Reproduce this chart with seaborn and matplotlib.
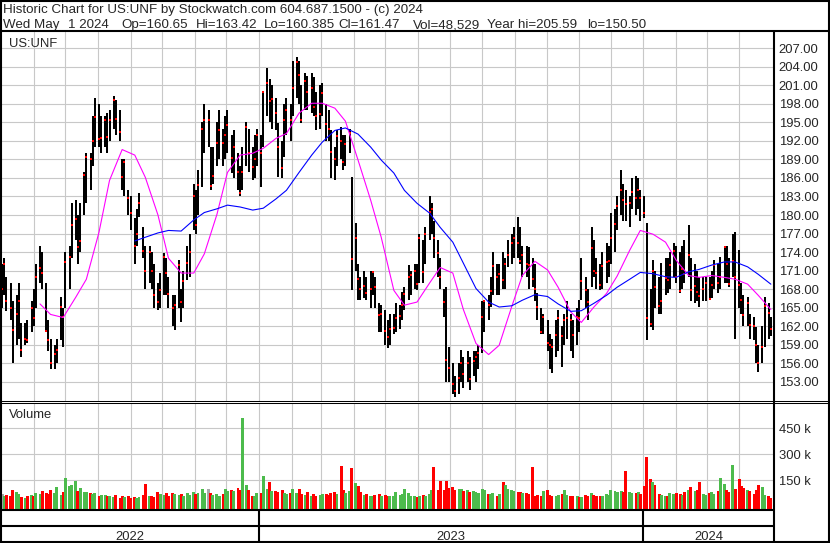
"""
Stockwatch style historic chart for US:UNF: price bars with two moving
averages on top, volume bars below, year strip at the bottom.
"""

import numpy as np
import pandas as pd
import matplotlib
matplotlib.use('Agg')
import matplotlib.pyplot as plt
import seaborn as sns

sns.set_style('white')
plt.rcParams['font.family'] = ['Liberation Sans', 'DejaVu Sans']

# ---------------------------------------------------------------------------
# Data (one bar per two trading days)
# ---------------------------------------------------------------------------
start_date = '2022-05-02'
end_date = '2024-05-01'

highs = [
    172, 173, 170, 169, 166, 167, 169, 162.5, 162.5, 163,
    166, 168, 172, 175, 174, 169, 163, 160, 159, 160,
    166.7, 165, 174, 175, 182, 182.4, 180, 182, 187, 190,
    190, 196, 199, 198, 196, 196, 196.5, 197, 199.3, 198.6,
    197, 189, 189, 184, 183, 179.5, 181, 183.6, 178, 175,
    175, 174, 172, 169, 170.6, 173.8, 173, 170, 167, 167,
    172.7, 168, 171, 175, 177, 185, 184, 187.3, 195, 198,
    197, 191, 191, 195, 197, 194, 196, 197, 193, 193.8,
    190, 188, 191, 195, 194, 191, 193, 194, 193, 200,
    203.8, 202, 201, 199, 194.9, 192, 198, 199, 198, 205,
    205.6, 205, 201, 203, 202.5, 203, 202.4, 200, 201, 201.4,
    198, 197, 193.8, 191, 193.8, 194.2, 193, 193, 194, 186.2,
    178.7, 172, 170, 171, 170, 171, 171, 170, 165.7, 165.5,
    164.6, 163, 164, 164, 165.7, 165.5, 167.5, 168.3, 171.9, 171,
    172, 172, 177, 176, 178, 183, 182, 179, 176, 173,
    168, 168.3, 158.6, 156, 154, 156, 158.1, 157, 158, 157,
    158, 158, 159, 166, 166.2, 167, 170, 174, 172, 172,
    174, 173, 176, 177, 178, 179.7, 178, 175, 175, 174.8,
    173, 172, 167.3, 165, 164, 163, 160.8, 160, 163, 164.6,
    162, 164, 166, 164, 163, 165, 166.2, 173, 170, 168,
    178, 176, 173, 172, 174, 175.5, 175, 180.3, 181, 183,
    187.3, 185, 184, 183, 186, 186.3, 186, 184, 183, 178.7,
    168, 172.7, 171, 170, 172.2, 173, 173, 174, 175.5, 175,
    174, 175, 176, 178.4, 173, 172, 171, 170, 170, 170,
    170, 171, 172.7, 172, 173.2, 175, 175, 173, 177, 177.2,
    174.3, 169, 167, 166.7, 164, 163.5, 161.9, 159, 162, 166.7, 165.7, 163.42,
]

lows = [
    165, 167, 164.5, 163, 156, 159, 160, 157, 159, 159.3,
    161, 162, 165, 169, 168, 161, 158, 155, 155, 156,
    159.7, 158.6, 165, 168, 173, 176, 172, 174, 180, 182,
    184, 188, 191, 191, 190, 191, 190, 192, 194, 193,
    192, 184, 183, 180, 177.6, 172, 175, 179.7, 173, 168,
    169, 168, 165, 164.6, 165, 167, 167, 165, 162, 161.4,
    165, 162.6, 165, 169.5, 170, 177.6, 177, 180, 184.6, 190,
    191, 184, 185, 188, 189, 188, 189, 190, 186.8, 186,
    184, 183, 184, 188, 187, 185.7, 186, 188, 184.6, 191,
    196, 195, 194, 193.8, 186.2, 186, 189.4, 193, 192, 196,
    199, 198, 194.9, 197, 197, 196.5, 196, 193.8, 194, 196,
    192, 192, 186, 185.7, 188, 189, 187.3, 188, 190, 167.8,
    171, 166.2, 166.2, 166.5, 166.2, 165, 167, 165, 161, 161,
    159, 158.4, 159, 160.8, 161, 161.5, 163, 164.6, 166.2, 167,
    168, 167.8, 169, 169, 172, 176, 177, 173, 170, 168,
    163.5, 153, 153, 151, 150.5, 151, 153, 152, 153, 151.6,
    154, 153, 155, 157.6, 161, 163, 165.1, 167, 167, 167,
    168, 168, 171.6, 172, 173, 173, 172, 170, 170, 168,
    168.3, 166, 163, 160.8, 160.8, 158, 155, 154.4, 157, 158,
    155.4, 159, 160, 158, 156.8, 159, 161, 166.2, 165, 163,
    168.3, 170, 168, 167.8, 168, 169, 170, 172, 174, 177.6,
    180, 179, 179, 178, 181, 180, 181, 179, 179.5, 159.7,
    161.8, 161.4, 165, 164, 164, 167, 167.3, 168, 170, 169,
    167.3, 168, 169, 170, 166, 165.7, 166, 165.1, 166, 166,
    166.2, 166.5, 168, 167.3, 168, 169, 169, 168.3, 170, 160,
    165, 164, 162, 162, 160, 159.7, 156, 154.6, 156, 158.6, 160, 160.385,
]

closes = [
    168, 172, 166, 165, 161.4, 164, 166, 158.1, 160, 159.7,
    164.9, 163.3, 170, 171.4, 170.6, 161.2, 159.7, 156, 157.5, 158.1,
    165.1, 163.5, 172.4, 173.2, 178.4, 179.3, 174.8, 175.8, 186.5, 189.4,
    189, 192, 195.9, 192.3, 192.5, 195.4, 192.6, 195.4, 198.6, 195.5,
    193.4, 186.2, 188.6, 182.8, 180.3, 175, 177, 182, 174.2, 171,
    174, 171, 167, 165.9, 167.8, 173.2, 170.6, 167.2, 164.9, 165.4,
    171.9, 165.9, 169.3, 172.2, 174, 183.1, 178.4, 184.8, 193.9, 195.4,
    195.4, 184.7, 186.3, 191.6, 193.8, 191.6, 193, 194.5, 189.2, 191,
    187, 183.6, 187, 194.2, 190, 187.8, 189, 193, 190, 199.9,
    201.4, 198.5, 198.8, 196.5, 191, 187.6, 195.4, 197, 195.4, 200.6,
    204.8, 202.7, 195.4, 201.7, 199.9, 200.5, 197.5, 196, 196.4, 199.8,
    194.7, 194, 190.2, 189, 192.8, 192, 188.6, 191.5, 193.3, 172.9,
    176.3, 169.6, 168, 168.5, 167.4, 168, 170.8, 168.3, 163.8, 164,
    161.2, 160.2, 161.5, 161.7, 163.3, 163.6, 165.5, 167.2, 170, 170.3,
    171, 168.9, 176.3, 170.8, 177, 180.5, 181, 176.3, 173.8, 170,
    165.9, 156.6, 155.2, 152.6, 151.5, 153.6, 156, 154.2, 156, 153.5,
    156.3, 157, 157.6, 163.5, 166, 165.5, 167.7, 171.8, 170, 170.4,
    169.4, 172, 173.5, 175.4, 176.3, 175.4, 172.5, 173.6, 172, 171.9,
    169.6, 168, 165.1, 161, 163.5, 159.2, 159, 158.6, 160.5, 163.3,
    160.4, 163, 163.3, 163, 160.6, 163.5, 163.3, 169.3, 167.8, 165.9,
    174.6, 171, 170.6, 168.7, 171.8, 172.4, 172.5, 176.3, 178.5, 181.5,
    184, 182.4, 181.8, 182, 183.8, 182.7, 184, 182.7, 180.3, 163.3,
    162.3, 171, 168.3, 165.3, 166, 169.8, 169.5, 171.9, 174.2, 170,
    167.7, 171.3, 170.5, 173.6, 167.8, 168.5, 167.5, 166.9, 168, 169,
    166.4, 168.7, 171.9, 169, 170, 174.8, 172, 168.9, 172.5, 170,
    168.7, 166.2, 163.8, 165.8, 162.2, 162, 158.9, 156, 158.6, 165.3, 164.1, 161.47,
]

# volume in thousands of shares
volume = [
    70, 55, 62, 58, 92, 80, 70, 52, 48, 55,
    62, 58, 75, 70, 85, 75, 68, 93, 72, 111,
    65, 80, 163, 117, 120, 146, 85, 105, 78, 80,
    72, 68, 75, 60, 65, 62, 55, 58, 50, 62,
    48, 55, 52, 60, 45, 50, 48, 52, 62, 128,
    55, 60, 50, 82, 70, 65, 75, 60, 72, 68,
    65, 70, 58, 75, 62, 80, 68, 72, 99, 75,
    100, 72, 65, 70, 60, 68, 100, 85, 95, 88,
    105, 95, 508, 122, 90, 55, 60, 72, 75, 175,
    99, 140, 88, 85, 80, 90, 75, 70, 72, 100,
    75, 100, 70, 65, 82, 60, 70, 55, 62, 68,
    70, 65, 72, 80, 68, 233, 90, 75, 85, 222,
    134, 115, 80, 62, 70, 55, 60, 65, 70, 58,
    62, 55, 60, 58, 80, 65, 70, 99, 72, 60,
    55, 50, 60, 65, 58, 70, 95, 228, 90, 146,
    90, 146, 105, 110, 95, 100, 98, 88, 92, 80,
    85, 80, 75, 100, 92, 70, 68, 75, 60, 70,
    140, 122, 100, 95, 85, 78, 80, 72, 75, 70,
    228, 60, 65, 58, 88, 90, 62, 55, 60, 65,
    70, 95, 62, 55, 60, 58, 50, 52, 65, 60,
    75, 62, 58, 60, 55, 68, 62, 90, 88, 80,
    85, 78, 204, 80, 72, 75, 82, 70, 118, 286,
    158, 140, 122, 70, 65, 60, 58, 72, 68, 75,
    70, 62, 80, 90, 110, 85, 95, 140, 70, 65,
    75, 80, 68, 85, 163, 128, 90, 80, 239, 100,
    158, 115, 105, 92, 85, 70, 90, 122, 110, 62, 55, 48.5,
]

# moving averages, sampled every 4th bar
ma_fast_first = 13
ma_fast = [
    165.6, 163.9, 163.4, 166.7, 169.6, 177.2, 185.6, 190.6, 189.7, 186.1,
    180.0, 173.0, 170.6, 170.6, 173.7, 180.1, 186.9, 189.7, 190.0, 190.8,
    192.4, 193.2, 196.5, 198.1, 198.1, 197.3, 195.2, 188.9, 182.4, 176.4,
    167.8, 165.4, 165.9, 169.0, 171.5, 170.6, 164.7, 159.2, 157.4, 158.9,
    165.2, 170.2, 172.5, 171.1, 168.3, 164.3, 162.6, 165.1, 167.3, 170.1,
    174.3, 177.5, 176.9, 175.6, 172.7, 170.2, 169.9, 170.2, 169.9, 169.6,
    168.8, 167.0, 164.7,
]
ma_slow_first = 45
ma_slow = [
    175.8, 176.4, 177.1, 177.5, 177.4, 179.2, 180.4, 181.0, 181.6, 181.3,
    180.8, 181.1, 182.6, 184.0, 186.9, 189.7, 191.8, 193.7, 194.1, 193.1,
    191.0, 188.9, 186.8, 184.0, 181.9, 180.3, 178.0, 175.6, 172.2, 168.1,
    165.9, 165.1, 165.3, 166.2, 167.1, 166.8, 165.6, 164.4, 164.5, 165.7,
    167.0, 168.3, 169.6, 170.7, 170.5, 170.0, 169.9, 170.8, 171.2, 171.9,
    172.4, 172.4, 171.6, 170.4, 168.8,
]

price_ticks = [153, 156, 159, 162, 165, 168, 171, 174, 177, 180,
               183, 186, 189, 192, 195, 198, 201, 204, 207]
volume_ticks = [150, 300, 450]
years = ['2022', '2023', '2024']

header_line1 = 'Historic Chart for US:UNF by Stockwatch.com 604.687.1500 - (c) 2024'
header_line2 = ['Wed May', '1 2024', 'Op=160.65', 'Hi=163.42', 'Lo=160.385',
                'Cl=161.47', 'Vol=48,529', 'Year hi=205.59', 'lo=150.50']

# ---------------------------------------------------------------------------
dates = pd.bdate_range(start_date, end_date)[::2]
bars = pd.DataFrame({'date': dates, 'high': highs, 'low': lows,
                     'close': closes, 'volume': volume})

change = bars['close'].diff().fillna(0)
vol_colors = np.where(change > 0, '#4cbb4c',
                      np.where(change < 0, '#ff0000', '#a8a8a8'))

W, H = 830, 543
FS = 9.4
FS_HEAD = 9.6
GRID = '#c8c8c8'


def box(x0, y0, x1, y1):
    """Pixel box (top-left origin) to figure fraction rect."""
    return [x0 / W, 1 - y1 / H, (x1 - x0) / W, (y1 - y0) / H]


def fy(y):
    """Pixel row (from top) to figure fraction."""
    return 1 - y / H


fig = plt.figure(figsize=(W / 100, H / 100), dpi=100)
fig.patch.set_facecolor('white')

x_lo, x_hi = pd.Timestamp('2022-04-30'), pd.Timestamp('2024-05-04')
month_ticks = pd.date_range('2022-06-01', '2024-04-01', freq='MS')

# price panel
ax = fig.add_axes(box(0, 31.5, 774, 400.5))
ax.vlines(bars['date'], bars['low'], bars['high'], color='black', lw=1.3,
          antialiased=False, zorder=3)
ax.scatter(bars['date'], bars['close'], marker='s', s=3, color='red', lw=0, zorder=4)
sns.lineplot(x=dates[ma_fast_first::4], y=ma_fast, ax=ax, color='#ff00ff', lw=0.8, zorder=5)
sns.lineplot(x=dates[ma_slow_first::4], y=ma_slow, ax=ax, color='#0000ff', lw=0.8, zorder=5)
ax.set_xlim(x_lo, x_hi)
ax.set_ylim(149.96, 209.72)
ax.yaxis.tick_right()
ax.set_yticks(price_ticks)
ax.set_yticklabels([f'{v:.2f}' for v in price_ticks])
ax.set_xticks(month_ticks)
ax.tick_params(axis='y', length=0, pad=3.3, labelsize=FS)
ax.tick_params(axis='x', length=0, labelbottom=False)
ax.grid(True, color=GRID, lw=0.8)
ax.set_axisbelow(True)
ax.set_xlabel('')
ax.set_ylabel('')
for s in ax.spines.values():
    s.set_visible(False)

# volume panel
vol_floor = -21
axv = fig.add_axes(box(0, 402.5, 774, 509.5))
axv.bar(bars['date'], bars['volume'] - vol_floor, bottom=vol_floor, width=2.8,
        color=vol_colors, lw=0, zorder=3)
axv.set_xlim(x_lo, x_hi)
axv.set_ylim(vol_floor, 600)
axv.yaxis.tick_right()
axv.set_yticks(volume_ticks)
axv.set_yticklabels([f'{v} k' for v in volume_ticks])
axv.set_xticks(month_ticks)
axv.tick_params(axis='y', length=0, pad=3.3, labelsize=FS)
axv.tick_params(axis='x', length=0, labelbottom=False)
axv.grid(True, color=GRID, lw=0.8)
axv.set_axisbelow(True)
for s in axv.spines.values():
    s.set_visible(False)

# year strip
axd = fig.add_axes(box(0, 509.5, 774, 542))
axd.set_xlim(x_lo, x_hi)
axd.set_ylim(0, 1)
axd.axis('off')
bounds = [x_lo] + [pd.Timestamp(f'{y}-01-01') for y in years[1:]] + [x_hi]
axd.vlines(bounds[1:-1], 0, 1, color='black', lw=1.5)
axd.axhline(0.49, color='black', lw=1.5)
for yr, a, b in zip(years, bounds[:-1], bounds[1:]):
    axd.text(a + (b - a) / 2, 0.06, yr, ha='center', va='baseline', fontsize=FS)

# frame lines, in pixel coordinates
fr = fig.add_axes([0, 0, 1, 1], zorder=10)
fr.set_xlim(0, W)
fr.set_ylim(H, 0)
fr.axis('off')
thick, thin = 1.5, 0.75
for xs, ys, lw in [((0, W), (1, 1), thick),
                   ((0, W), (30.5, 30.5), thick),
                   ((1, 1), (0, H), thick),
                   ((W - 1, W - 1), (0, H), thick),
                   ((774, 774), (30.5, H), thick),
                   ((0, W), (400.8, 400.8), thin),
                   ((0, W), (402.8, 402.8), thin),
                   ((0, 774), (509.8, 509.8), thick),
                   ((0, W), (542, 542), thick)]:
    fr.plot(xs, ys, color='black', lw=lw, solid_capstyle='butt')

# texts
fig.text(3 / W, fy(13.3), header_line1, ha='left', va='baseline', fontsize=FS_HEAD)
for txt, xp in zip(header_line2, [3, 68, 121, 196, 264, 338, 413, 487, 587]):
    fig.text(xp / W, fy(28.3), txt, ha='left', va='baseline', fontsize=FS_HEAD)
fig.text(9 / W, fy(46.7), 'US:UNF', ha='left', va='baseline', fontsize=FS)
fig.text(9 / W, fy(418), 'Volume', ha='left', va='baseline', fontsize=FS)

fig.savefig('out.png', dpi=100)
